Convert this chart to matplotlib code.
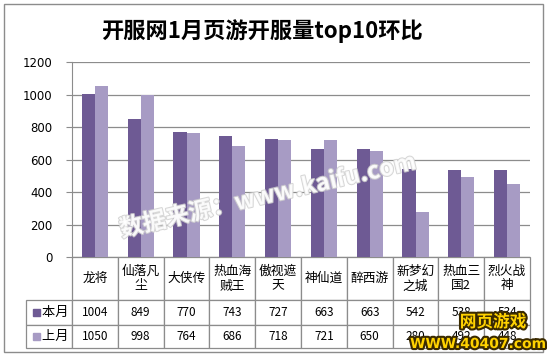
import numpy as np
import matplotlib
matplotlib.use("Agg")
import matplotlib.pyplot as plt
import matplotlib.patheffects as pe
from matplotlib.patches import Rectangle

plt.rcParams['font.family'] = ['Noto Sans CJK SC', 'DejaVu Sans']

title = "开服网1月页游开服量top10环比"
games = ["龙将", "仙落凡\n尘", "大侠传", "热血海\n贼王", "傲视遮\n天",
         "神仙道", "醉西游", "新梦幻\n之城", "热血三\n国2", "烈火战\n神"]
this_month = [1004, 849, 770, 743, 727, 663, 663, 542, 538, 534]
last_month = [1050, 998, 764, 686, 718, 721, 650, 280, 492, 448]
series = ["本月", "上月"]
colors = ["#6E5A94", "#A79BC4"]
yticks = [0, 200, 400, 600, 800, 1000, 1200]

W, H = 547, 358
fig = plt.figure(figsize=(W / 100, H / 100), dpi=100)
fig.patches.append(Rectangle((4 / W, 1 - 352 / H), 539 / W, 348 / H,
                             transform=fig.transFigure, fill=False,
                             edgecolor="#8c8c8c", linewidth=1))

ax_l, ax_t, ax_w, ax_h = 72, 62, 458, 195
ax = fig.add_axes([ax_l / W, 1 - (ax_t + ax_h) / H, ax_w / W, ax_h / H])

x = np.arange(len(games))
bw = 0.285
ax.bar(x - bw / 2, this_month, bw, color=colors[0], zorder=3)
ax.bar(x + bw / 2, last_month, bw, color=colors[1], zorder=3)

ax.set_xlim(-0.5, len(games) - 0.5)
ax.set_ylim(0, 1200)
ax.set_yticks(yticks)
ax.set_yticklabels([str(v) for v in yticks], fontsize=8.5, family="DejaVu Sans")
ax.tick_params(axis="y", length=4, color="#8c8c8c", pad=10)
ax.set_xticks([])
ax.grid(axis="y", color="#8c8c8c", linewidth=0.9, zorder=0)
for s in ["top", "right", "bottom"]:
    ax.spines[s].set_visible(False)
ax.spines["left"].set_color("#8c8c8c")

fig.text(262 / W, 1 - 31 / H, title, ha="center", va="center",
         fontsize=16, fontweight="bold")

# data table under the chart, cell sizes in axes units
cell_text = [[str(v) for v in this_month], [str(v) for v in last_month]]
tbl = ax.table(cellText=cell_text, rowLabels=series, colLabels=games,
               cellLoc="center", rowLoc="left", loc="bottom")
tbl.auto_set_font_size(False)
row_h = {0: 43, 1: 25, 2: 23}
for (r, c), cell in tbl.get_celld().items():
    cell.set_edgecolor("#8c8c8c")
    cell.set_linewidth(0.9)
    cell.set_height(row_h[r] / ax_h)
    cell.set_width(46 / ax_w if c == -1 else 1 / len(games))
    cell.get_text().set_fontsize(9.2 if r == 0 else 8.5)
    if c == -1:
        cell.get_text().set_text("    " + cell.get_text().get_text())
        cell.get_text().set_fontsize(9.5)

for i, yc in enumerate([312, 336]):
    ax.add_patch(Rectangle(((33 - ax_l) / ax_w, (257 - yc - 3.5) / ax_h),
                           7 / ax_w, 7 / ax_h, transform=ax.transAxes,
                           color=colors[i], clip_on=False, zorder=5))

# watermarks
fig.text(268 / W, 1 - 196 / H, "数据来源：www.kaifu.com", ha="center", va="center",
         rotation=13, fontsize=17, fontweight="bold", color="white", alpha=0.85,
         path_effects=[pe.withStroke(linewidth=1.5, foreground="#d0d0d0")], zorder=10)
fig.text(493 / W, 1 - 322 / H, "网页游戏", ha="center", va="center", fontsize=12,
         fontweight="bold", color="#ffd200",
         path_effects=[pe.withStroke(linewidth=3, foreground="#3a2a00")], zorder=10)
fig.text(478 / W, 1 - 344 / H, "WWW.40407.com", ha="center", va="center", fontsize=10,
         fontweight="bold", color="#ffd200", family="DejaVu Sans",
         path_effects=[pe.withStroke(linewidth=3, foreground="#3a2a00")], zorder=10)

fig.savefig("out.png", dpi=100)
